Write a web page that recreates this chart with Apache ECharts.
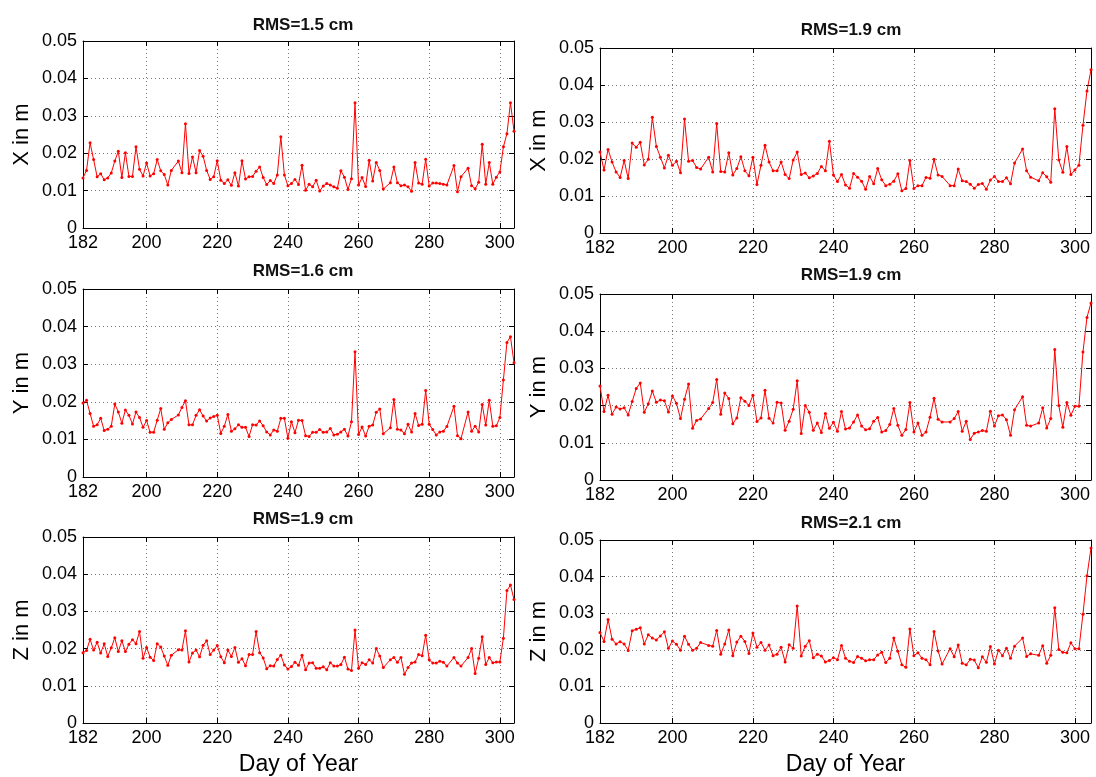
<!DOCTYPE html>
<html><head><meta charset="utf-8">
<script src="https://cdn.jsdelivr.net/npm/echarts@6/dist/echarts.min.js"></script>
<style>html,body{margin:0;padding:0;background:#fff}#c{width:1096px;height:777px}</style>
</head><body><div id="c"></div>
<script>
const DAYS = [182,183,184,185,186,187,188,189,190,191,192,193,194,195,196,197,198,199,200,201,
202,203,204,205,206,207,208,209,210,211,212,213,214,215,216,217,218,219,220,221,
222,223,224,225,226,227,228,229,230,231,232,233,234,235,236,237,238,239,240,241,
242,243,244,245,246,247,248,249,250,251,252,253,254,255,256,257,258,259,260,261,
262,263,264,265,266,267,268,269,270,271,272,273,274,275,276,277,278,279,280,281,
282,283,284,285,286,287,288,289,290,291,292,293,294,295,296,297,298,299,300,301,
302,303,304];
const X_TICKS = [182,200,220,240,260,280,300];
const TITLES = ['RMS=1.5 cm','RMS=1.6 cm','RMS=1.9 cm','RMS=1.9 cm','RMS=1.9 cm','RMS=2.1 cm'];
const Y_NAMES = ['X in m','Y in m','Z in m','X in m','Y in m','Z in m'];
const X_NAME = 'Day of Year';

const X_LEFT = [.0134,.0154,.0228,.0183,.0137,.0145,.0129,.0134,.0147,.0179,
.0205,.0135,.0201,.0138,.0138,.0217,.0157,.0139,.0174,.0139,
.0145,.0183,.0153,.0143,.0115,.0154,null,.0179,.0148,.0279,
.0146,.0190,.0148,.0207,.0192,.0154,.0130,.0137,.0180,.0128,
.0119,.0129,.0114,.0148,.0112,.0180,.0131,.0137,.0138,.0152,
.0163,.0135,.0116,.0127,.0119,.0142,.0244,.0142,.0113,.0119,
.0130,.0116,.0168,.0101,.0117,.0110,.0128,.0099,.0112,.0119,
.0115,.0110,.0106,.0153,.0136,.0103,.0132,.0335,.0115,.0135,
.0111,.0181,.0126,.0175,.0154,.0104,null,.0121,.0163,.0121,
.0113,.0115,.0110,.0098,.0175,.0120,.0117,.0184,.0112,.0120,
.0120,.0119,.0117,.0115,null,.0167,.0097,.0137,null,.0160,
.0113,.0105,.0122,.0224,.0117,.0175,.0117,.0136,.0150,.0217,
.0252,.0335,.0259];

const Y_LEFT = [.0197,.0204,.0169,.0135,.0139,.0156,.0124,.0127,.0135,.0194,
.0173,.0143,.0178,.0164,.0141,.0173,.0158,.0132,.0150,.0119,
.0119,.0151,.0182,.0127,.0144,.0153,null,.0165,.0185,.0203,
.0139,.0139,.0164,.0179,.0162,.0149,.0157,.0161,.0164,.0116,
.0135,.0166,.0122,.0128,.0139,.0132,.0132,.0108,.0139,.0138,
.0149,.0136,.0120,.0112,.0125,.0122,.0156,.0156,.0103,.0147,
.0118,.0151,.0150,.0110,.0108,.0119,.0119,.0126,.0119,.0120,
.0129,.0112,.0114,.0120,.0127,.0109,.0147,.0333,.0113,.0133,
.0109,.0135,.0138,.0172,.0181,.0115,null,.0131,.0206,.0127,
.0125,.0115,.0140,.0120,.0169,.0137,.0140,.0230,.0140,.0126,
.0112,.0120,.0122,.0134,null,.0188,.0110,.0102,null,.0173,
.0122,.0135,.0120,.0193,.0138,.0204,.0135,.0136,.0158,.0258,
.0358,.0373,.0304];

const Z_LEFT = [.0189,.0195,.0225,.0196,.0217,.0188,.0213,.0179,.0202,.0229,
.0192,.0221,.0192,.0212,.0224,.0213,.0246,.0174,.0203,.0177,
.0168,.0213,.0204,.0180,.0155,.0182,null,.0197,.0196,.0248,
.0164,.0188,.0196,.0178,.0209,.0221,.0184,.0196,.0208,.0178,
.0162,.0196,.0179,.0203,.0163,.0173,.0154,.0184,.0184,.0246,
.0189,.0175,.0146,.0154,.0153,.0171,.0182,.0156,.0145,.0152,
.0163,.0155,.0182,.0143,.0161,.0162,.0147,.0147,.0151,.0143,
.0162,.0153,.0153,.0157,.0177,.0145,.0141,.0250,.0147,.0162,
.0157,.0170,.0161,.0200,.0180,.0149,null,.0170,.0176,.0163,
.0176,.0131,.0149,.0161,.0164,.0184,.0181,.0236,.0170,.0161,
.0161,.0166,.0163,.0153,null,.0176,.0161,.0153,null,.0176,
.0200,.0133,.0174,.0232,.0157,.0176,.0162,.0164,.0164,.0228,
.0356,.0371,.0332];

const X_RIGHT = [.0219,.0170,.0226,.0192,.0165,.0150,.0196,.0147,.0243,.0232,
.0245,.0184,.0199,.0313,.0234,.0205,.0176,.0210,.0183,.0194,
.0163,.0308,.0194,.0196,.0177,.0173,null,.0205,.0165,.0296,
.0166,.0165,.0217,.0157,.0174,.0206,.0168,.0155,.0205,.0131,
.0183,.0237,.0192,.0168,.0168,.0192,.0158,.0147,.0197,.0219,
.0158,.0162,.0149,.0154,.0161,.0180,.0168,.0248,.0157,.0139,
.0158,.0130,.0121,.0161,.0151,.0140,.0118,.0153,.0133,.0174,
.0144,.0128,.0132,.0140,.0160,.0114,.0120,.0196,.0120,.0128,
.0128,.0150,.0148,.0199,.0157,.0153,null,.0128,.0128,.0173,
.0141,.0139,.0132,.0121,.0131,.0134,.0118,.0143,.0153,.0139,
.0139,.0149,.0133,.0189,null,.0227,.0168,.0151,null,.0141,
.0163,.0152,.0137,.0336,.0197,.0164,.0234,.0158,.0170,.0183,
.0291,.0384,.0441];

const Y_RIGHT = [.0253,.0184,.0228,.0177,.0196,.0191,.0194,.0175,.0211,.0246,
.0261,.0182,.0205,.0239,.0209,.0215,.0213,.0183,.0226,.0206,
.0165,.0217,.0258,.0139,.0160,.0164,null,.0192,.0208,.0270,
.0177,.0234,.0219,.0151,.0167,.0221,.0212,.0200,.0228,.0157,
.0167,.0241,.0166,.0153,.0209,.0207,.0134,.0158,.0190,.0267,
.0125,.0200,.0182,.0134,.0153,.0128,.0179,.0139,.0155,.0131,
.0184,.0137,.0140,.0156,.0175,.0145,.0135,.0138,.0158,.0168,
.0129,.0133,.0149,.0192,.0147,.0120,.0136,.0208,.0129,.0153,
.0120,.0129,.0169,.0220,.0163,.0156,null,.0156,.0165,.0184,
.0131,.0158,.0109,.0126,.0129,.0133,.0131,.0185,.0145,.0173,
.0175,.0162,.0120,.0189,null,.0224,.0147,.0145,null,.0153,
.0194,.0140,.0165,.0351,.0200,.0142,.0208,.0174,.0198,.0198,
.0344,.0437,.0476];

const Z_RIGHT = [.0247,.0223,.0283,.0229,.0216,.0222,.0216,.0198,.0252,.0256,
.0260,.0216,.0241,.0232,.0227,.0238,.0249,.0204,.0224,.0215,
.0199,.0237,.0215,.0199,.0204,.0220,null,.0212,.0210,.0253,
.0188,.0216,.0254,.0184,.0221,.0237,.0223,.0190,.0246,.0207,
.0220,.0199,.0213,.0184,.0188,.0207,.0167,.0214,.0204,.0320,
.0183,.0210,.0225,.0178,.0188,.0183,.0167,.0171,.0178,.0173,
.0212,.0177,.0169,.0165,.0182,.0177,.0170,.0173,.0173,.0186,
.0193,.0165,.0177,.0232,.0196,.0159,.0152,.0257,.0184,.0192,
.0177,.0173,.0159,.0250,.0197,.0161,null,.0203,.0181,.0213,
.0163,.0159,.0174,.0172,.0151,.0181,.0166,.0209,.0161,.0199,
.0184,.0204,.0177,.0210,null,.0232,.0182,.0189,null,.0185,
.0211,.0163,.0185,.0315,.0201,.0193,.0192,.0219,.0203,.0203,
.0297,.0402,.0478];

const SERIES_DATA = [X_LEFT, Y_LEFT, Z_LEFT, X_RIGHT, Y_RIGHT, Z_RIGHT];

// layout
const FONT = "'Liberation Sans', Arial, Helvetica, sans-serif";
const PANELS = [
  {left:83,  top:41,  width:431, height:187, tx:298, ty:12, bottom:false},
  {left:83,  top:289, width:431, height:188, tx:298, ty:258, bottom:false},
  {left:83,  top:537, width:431, height:187, tx:298, ty:506, bottom:true},
  {left:600, top:48,  width:491, height:185, tx:846, ty:17, bottom:false},
  {left:600, top:294, width:491, height:186, tx:846, ty:262, bottom:false},
  {left:600, top:540, width:491, height:187, tx:846, ty:510, bottom:true}
];

const grids = [], xAxes = [], yAxes = [], series = [], titles = [];
PANELS.forEach((p, i) => {
  grids.push({left:p.left, top:p.top, width:p.width, height:p.height, containLabel:false});
  titles.push({text:TITLES[i], left:p.tx, top:p.ty, textAlign:'center',
    textStyle:{fontSize:17, fontWeight:'bold', color:'#111', fontFamily:FONT}});
  const blk = {color:'#000', width:1};
  xAxes.push({
    type:'value', gridIndex:i, min:182, max:304, position:'bottom',
    axisLine:{show:true, onZero:false, lineStyle:blk},
    axisTick:{show:true, inside:true, length:5, customValues:X_TICKS, lineStyle:blk},
    axisLabel:{customValues:X_TICKS, fontSize:18, color:'#000', margin:6, fontFamily:FONT},
    splitLine:{show:true, lineStyle:{type:[1,3], color:'#777', width:1}},
    name: p.bottom ? X_NAME : '', nameLocation:'middle', nameGap:30,
    nameTextStyle:{fontSize:23, color:'#000', fontFamily:FONT}
  });
  xAxes.push({
    type:'value', gridIndex:i, min:182, max:304, position:'top',
    axisLine:{show:true, onZero:false, lineStyle:blk},
    axisTick:{show:true, inside:true, length:5, customValues:X_TICKS, lineStyle:blk},
    axisLabel:{show:false}, splitLine:{show:false}
  });
  yAxes.push({
    type:'value', gridIndex:i, min:0, max:0.05, interval:0.01, position:'left',
    axisLine:{show:true, onZero:false, lineStyle:blk},
    axisTick:{show:true, inside:true, length:5, lineStyle:blk},
    axisLabel:{fontSize:18, color:'#000', margin:6, fontFamily:FONT,
      formatter: v => v === 0 ? '0' : v.toFixed(2)},
    splitLine:{show:true, lineStyle:{type:[1,3], color:'#777', width:1}},
    name:Y_NAMES[i], nameLocation:'middle', nameGap:50, nameRotate:90,
    nameTextStyle:{fontSize:22, color:'#000', fontFamily:FONT}
  });
  yAxes.push({
    type:'value', gridIndex:i, min:0, max:0.05, interval:0.01, position:'right',
    axisLine:{show:true, onZero:false, lineStyle:blk},
    axisTick:{show:true, inside:true, length:5, lineStyle:blk},
    axisLabel:{show:false}, splitLine:{show:false}
  });
  const vals = SERIES_DATA[i];
  const pts = [];
  DAYS.forEach((d, k) => { if (vals[k] !== null) pts.push([d, vals[k]]); });
  series.push({
    type:'line', xAxisIndex:2*i, yAxisIndex:2*i, data:pts,
    symbol:'circle', symbolSize:3, showSymbol:true,
    lineStyle:{color:'#ff0000', width:1}, itemStyle:{color:'#ff0000'},
    animation:false, silent:true
  });
});

const chart = echarts.init(document.getElementById('c'), null, {renderer:'canvas'});
chart.setOption({
  backgroundColor:'#fff', animation:false,
  title:titles, grid:grids, xAxis:xAxes, yAxis:yAxes, series:series
});
</script></body></html>
